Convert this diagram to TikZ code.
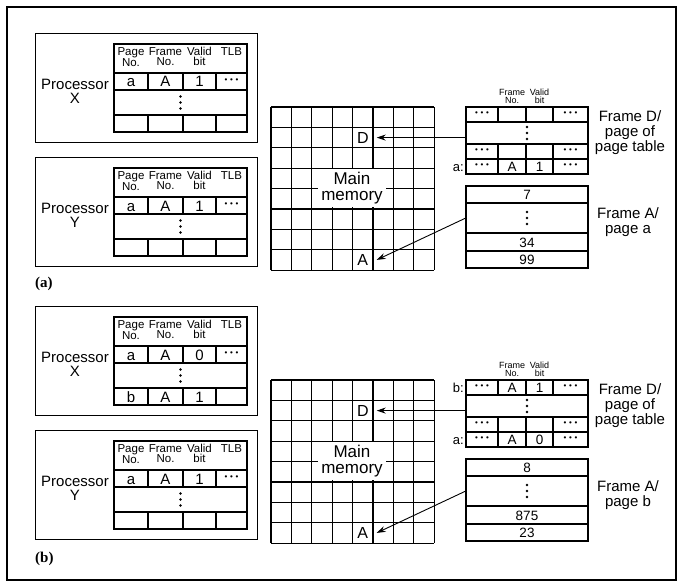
\documentclass[tikz,border=0pt]{standalone}
\usepackage{fontspec}
\setmainfont{Liberation Sans}
\newfontfamily\serifbf{Liberation Serif}
\usetikzlibrary{arrows.meta}

\newcommand\tlbdots{\raisebox{1pt}{\fontsize{8}{8}\selectfont •\hspace{2.6pt}•\hspace{2.6pt}•}}

\tikzset{
  box/.style={draw, line width=0.9pt},
  tbl/.style={line width=1.1pt},
  gridln/.style={line width=1.1pt},
  proclbl/.style={font=\fontsize{15}{14}\selectfont, align=center, inner sep=0pt},
  hdr/.style={font=\fontsize{11.5}{10}\selectfont, align=center, inner sep=0pt, anchor=north},
  val/.style={font=\fontsize{15}{15}\selectfont, inner sep=0pt, text height=11pt, text depth=0pt},
  sval/.style={font=\fontsize{13.5}{13.5}\selectfont, inner sep=0pt, text height=10pt, text depth=0pt},
  dotn/.style={inner sep=0pt},
  rowcell/.style={inner sep=0pt, minimum width=122pt},
  shdr/.style={font=\fontsize{9}{8.5}\selectfont, align=center, inner sep=0pt, anchor=south},
  memlbl/.style={font=\fontsize{17}{16}\selectfont, align=center, fill=white, inner sep=3pt},
  cellnode/.style={font=\fontsize{16}{16}\selectfont, minimum width=20.4pt, minimum height=20.4pt, inner sep=0pt},
  flabel/.style={font=\fontsize{15}{15}\selectfont, align=center, inner sep=0pt},
  rowlbl/.style={font=\fontsize{13}{13}\selectfont, anchor=east, inner sep=0pt, text height=10pt, text depth=0pt},
  arr/.style={-{Stealth[length=9pt,width=6pt]}, line width=0.9pt},
  partlbl/.style={font=\serifbf\bfseries\fontsize{15}{15}\selectfont, anchor=west, inner sep=0pt},
  vdot/.style={fill=black},
}

% three vertical dots around a named point
\newcommand\VDots[1]{\fill[vdot] (#1) ++(0,-6) circle[radius=1.3pt] (#1) circle[radius=1.3pt] (#1) ++(0,6) circle[radius=1.3pt];}

% Processor box: #1 prefix, #2 top y, #3 letter, #4 valid bit of row a
\newcommand\Proc[4]{%
\begin{scope}[shift={(0,#2)}]
  \draw[box] (35,0) rectangle (257,109);
  \node[proclbl] (#1lbl) at (75,58) {Processor\\#3};
  \draw[tbl] (114,11) rectangle (247,99);
  \draw[tbl] (114,40) -- (247,40) (114,57) -- (247,57) (114,82) -- (247,82);
  \foreach \xx in {148,183,216} {\draw[tbl] (\xx,40) -- (\xx,57) (\xx,82) -- (\xx,99);}
  \node[hdr] (#1h1) at (131,14) {Page\\No.};
  \node[hdr] (#1h2) at (165.5,14) {Frame\\No.};
  \node[hdr] (#1h3) at (199.5,14) {Valid\\bit};
  \node[hdr] (#1h4) at (231.5,14) {TLB};
  \node[val] (#1c1) at (131,48.5) {a};
  \node[val] (#1c2) at (165.5,48.5) {A};
  \node[val] (#1c3) at (199.5,48.5) {#4};
  \node[dotn] (#1c4) at (231.5,48.5) {\tlbdots};
  \coordinate (#1vd) at (180.5,69.5);
  \VDots{#1vd}
\end{scope}}

% Memory + page tables: #1 prefix (=page letter), #2 top y, #3,#4 row1 middle cells,
% #5 valid bit in row a:, #6 row1 label, #7-#9 values of frame A
\newcommand\FrameSet[9]{%
\begin{scope}[shift={(0,#2)}]
  \foreach \i in {0,...,8} {
    \draw[gridln] (271+\i*20.4,0) -- (271+\i*20.4,163.2);
    \draw[gridln] (271,\i*20.4) -- (434.2,\i*20.4);
  }
  \node[memlbl] (#1mem) at (352,81) {Main\\memory};
  \node[cellnode] (#1D) at (362.8,30.6) {D};
  \node[cellnode] (#1A) at (362.8,152.9) {A};
  % page-table frame D
  \node[shdr] (#1hf) at (512,-3) {Frame\\No.};
  \node[shdr] (#1hv) at (539.5,-3) {Valid\\bit};
  \draw[tbl] (466,0) rectangle (588,67);
  \draw[tbl] (466,15) -- (588,15) (466,37) -- (588,37) (466,52) -- (588,52);
  \foreach \xx in {498,526,553} {\draw[tbl] (\xx,0) -- (\xx,15) (\xx,37) -- (\xx,67);}
  \node[dotn] (#1r1a) at (482,7.5) {\tlbdots};
  \node[sval] (#1r1b) at (512,7.5) {#3};
  \node[sval] (#1r1c) at (539.5,7.5) {#4};
  \node[dotn] (#1r1d) at (570.5,7.5) {\tlbdots};
  \node[rowcell, minimum height=22pt] (#1Drow) at (527,26) {};
  \VDots{#1Drow}
  \node[dotn] (#1r3a) at (482,44.5) {\tlbdots};
  \node[dotn] (#1r3d) at (570.5,44.5) {\tlbdots};
  \node[dotn] (#1r4a) at (482,59.5) {\tlbdots};
  \node[sval] (#1r4b) at (512,59.5) {A};
  \node[sval] (#1r4c) at (539.5,59.5) {#5};
  \node[dotn] (#1r4d) at (570.5,59.5) {\tlbdots};
  \node[rowlbl] (#1lb1) at (464,7.5) {#6};
  \node[rowlbl] (#1lb4) at (464,59.5) {a:};
  % frame A
  \draw[tbl] (466,79) rectangle (588,161);
  \draw[tbl] (466,96) -- (588,96) (466,126) -- (588,126) (466,144) -- (588,144);
  \node[sval] (#1v1) at (527,87.5) {#7};
  \node[rowcell, minimum height=30pt] (#1Arow) at (527,111) {};
  \VDots{#1Arow}
  \node[sval] (#1v3) at (527,135) {#8};
  \node[sval] (#1v4) at (527,152.5) {#9};
  \node[flabel] (#1fdl) at (630,26) {Frame D/\\page of\\page table};
  \node[flabel] (#1fal) at (628,115) {Frame A/\\page #1};
  \draw[arr] (#1Drow.west |- #1D.east) -- ([xshift=3.5pt]#1D.east);
  \draw[arr] (#1Arow.west) -- ([xshift=3.5pt]#1A.east);
\end{scope}}

\begin{document}
\begin{tikzpicture}[x=1pt,y=-1pt]
\useasboundingbox (0,0) rectangle (683,586);
\draw[line width=1.2pt] (7,7) rectangle (676,580);
\Proc{ax}{33}{X}{1}
\Proc{ay}{157}{Y}{1}
\Proc{bx}{306}{X}{0}
\Proc{by}{430}{Y}{1}
\node[val] (bxl1) at (131,396.5) {b};
\node[val] (bxl2) at (165.5,396.5) {A};
\node[val] (bxl3) at (199.5,396.5) {1};
\FrameSet{a}{107}{}{}{1}{}{7}{34}{99}
\FrameSet{b}{380}{A}{1}{0}{b:}{8}{875}{23}
\node[partlbl] (pa) at (35,284) {(a)};
\node[partlbl] (pb) at (35,559) {(b)};
\end{tikzpicture}
\end{document}
